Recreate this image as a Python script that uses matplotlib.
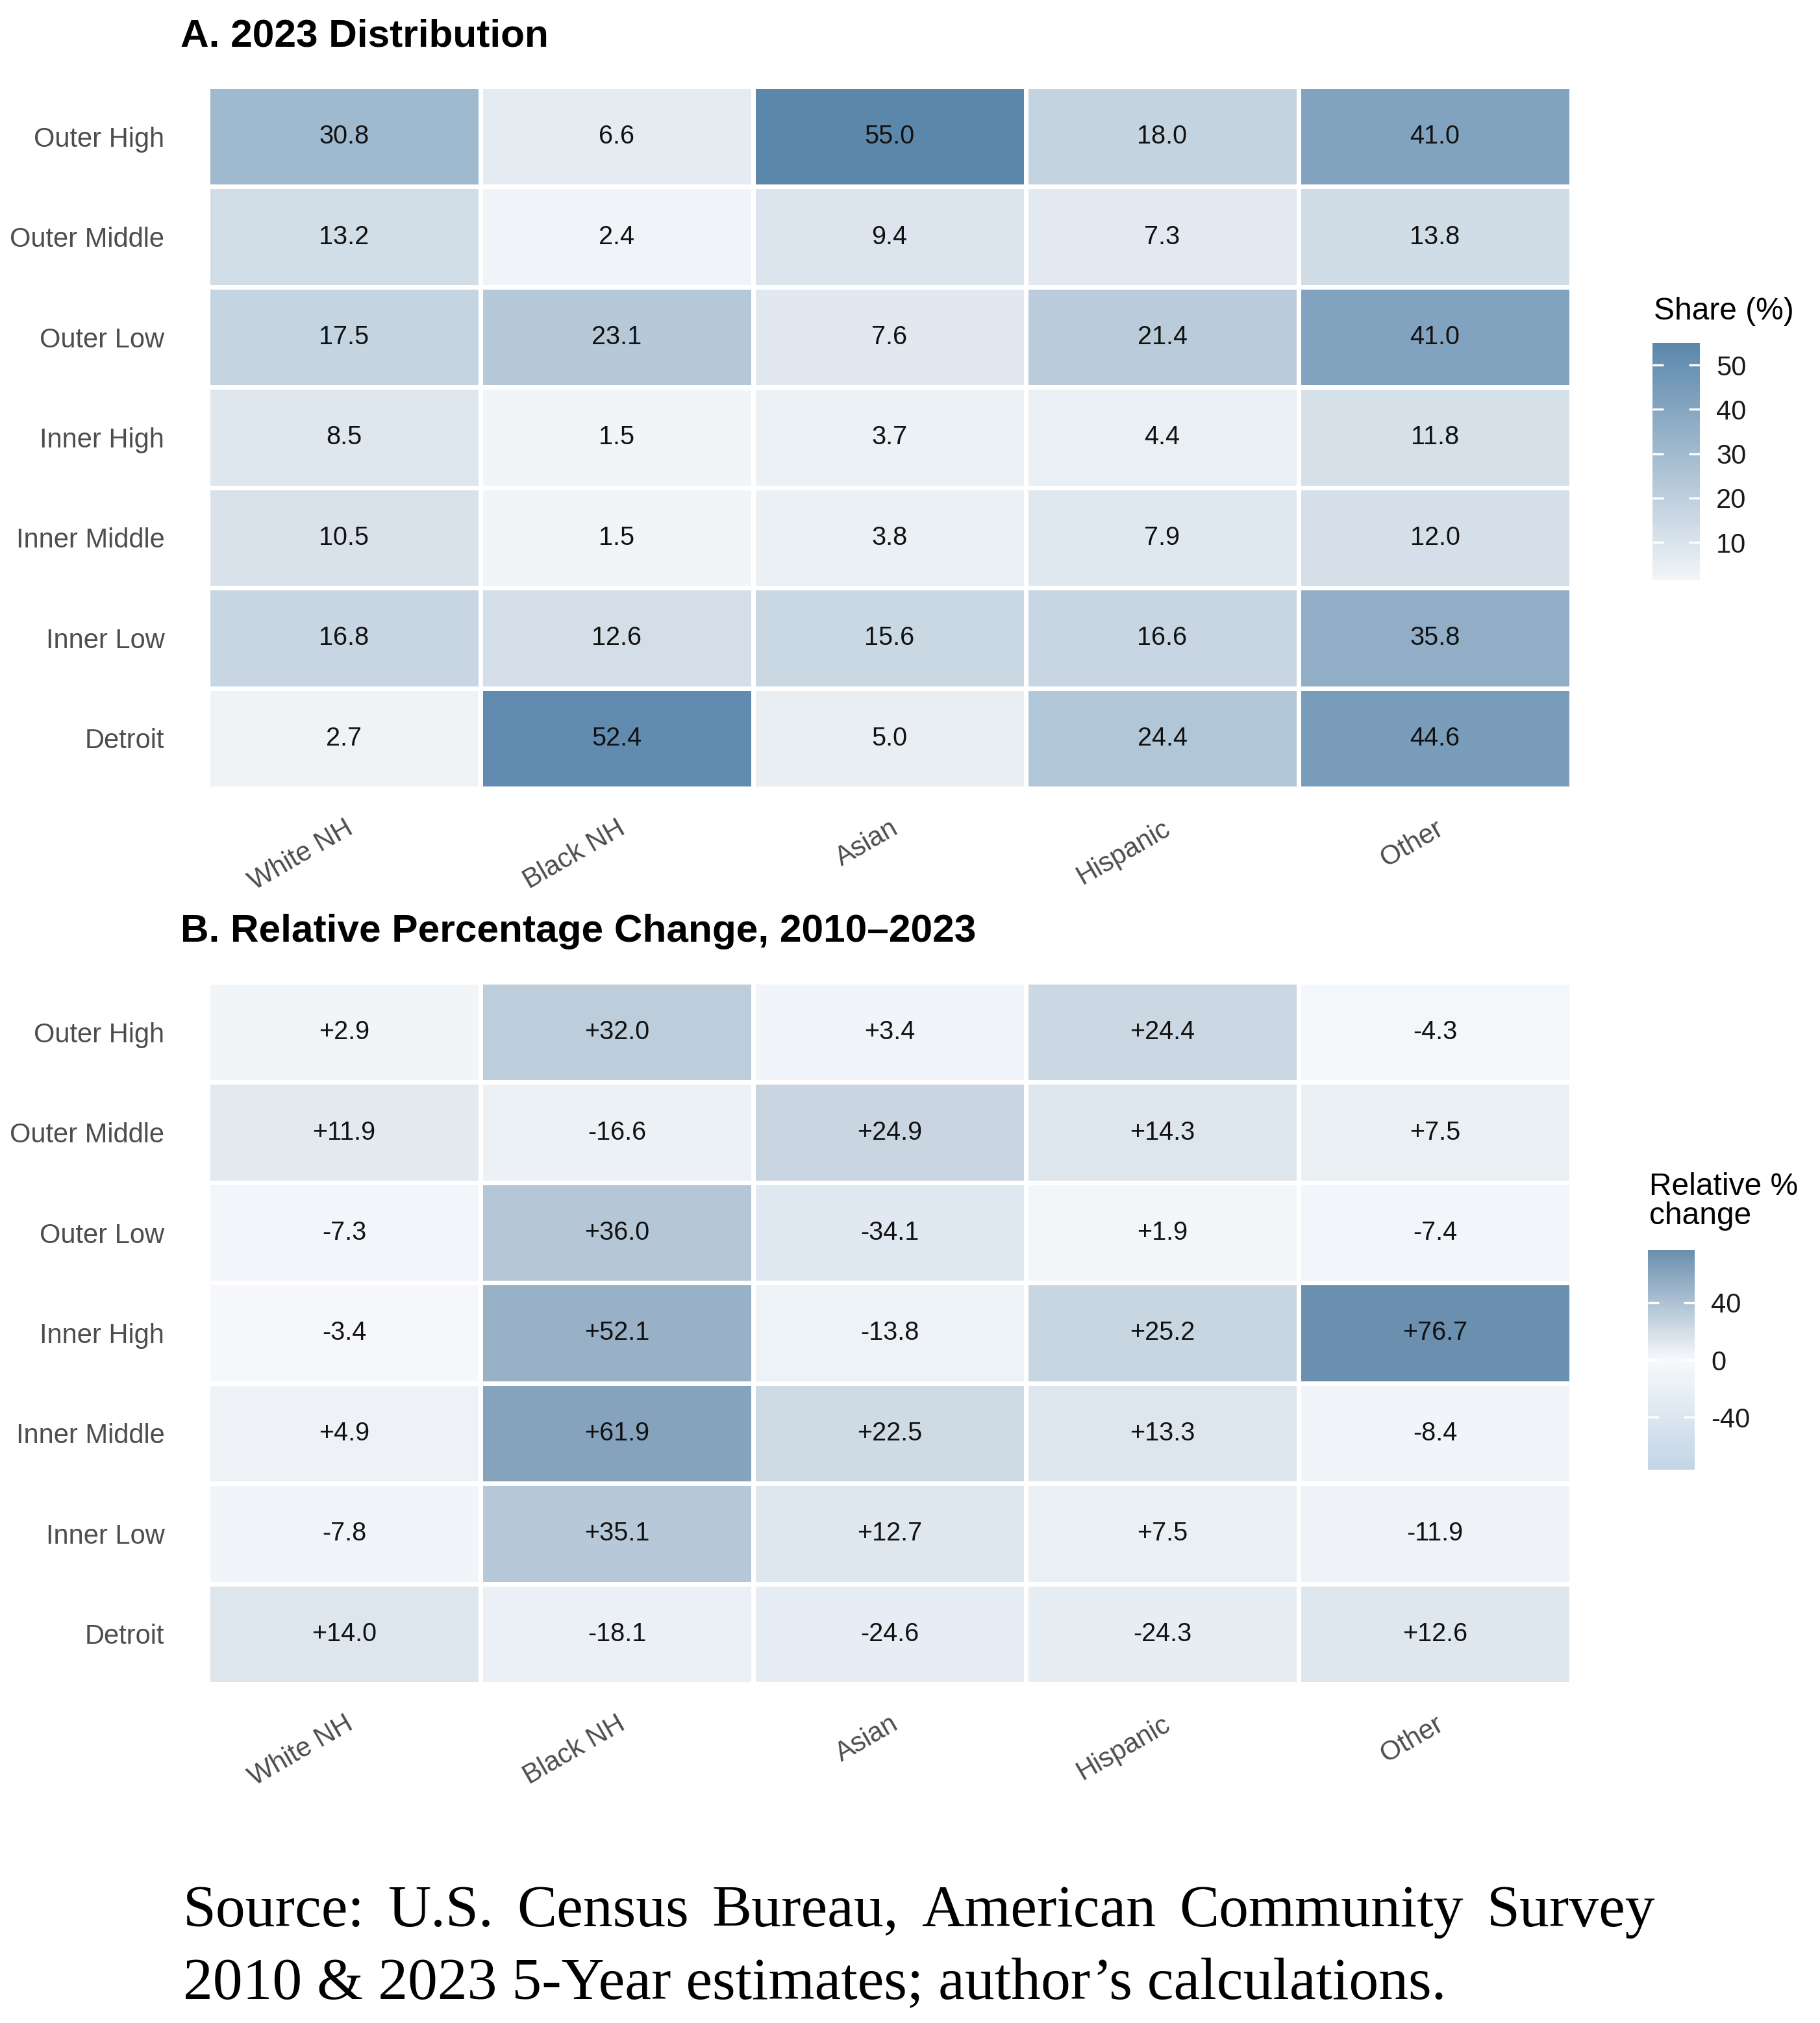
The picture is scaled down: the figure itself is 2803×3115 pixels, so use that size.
import numpy as np
import matplotlib
matplotlib.use("Agg")
import matplotlib.pyplot as plt
from matplotlib.colors import LinearSegmentedColormap, Normalize
import matplotlib.transforms as mtransforms

# ---- data ----
rows = ["Outer High", "Outer Middle", "Outer Low", "Inner High",
        "Inner Middle", "Inner Low", "Detroit"]
cols = ["White NH", "Black NH", "Asian", "Hispanic", "Other"]

share_2023 = [
    [30.8, 6.6, 55.0, 18.0, 41.0],
    [13.2, 2.4, 9.4, 7.3, 13.8],
    [17.5, 23.1, 7.6, 21.4, 41.0],
    [8.5, 1.5, 3.7, 4.4, 11.8],
    [10.5, 1.5, 3.8, 7.9, 12.0],
    [16.8, 12.6, 15.6, 16.6, 35.8],
    [2.7, 52.4, 5.0, 24.4, 44.6],
]
rel_change = [
    [2.9, 32.0, 3.4, 24.4, -4.3],
    [11.9, -16.6, 24.9, 14.3, 7.5],
    [-7.3, 36.0, -34.1, 1.9, -7.4],
    [-3.4, 52.1, -13.8, 25.2, 76.7],
    [4.9, 61.9, 22.5, 13.3, -8.4],
    [-7.8, 35.1, 12.7, 7.5, -11.9],
    [14.0, -18.1, -24.6, -24.3, 12.6],
]
share_ticks = [10, 20, 30, 40, 50]
change_ticks = [-40, 0, 40]

plt.rcParams["font.family"] = ["Liberation Sans", "DejaVu Sans"]
plt.rcParams["axes.unicode_minus"] = False

W, H, DPI = 2803, 3115, 300
fig = plt.figure(figsize=(W / DPI, H / DPI), dpi=DPI)


def fx(px):
    return px / W


def fy(px):
    return 1 - px / H


cmap_a = LinearSegmentedColormap.from_list("share", ["#f2f5f8", "#5b87ab"])
cmap_b = LinearSegmentedColormap.from_list("chg", ["#c2d5e6", "#f7f9fb", "#6b8fae"])


def heatmap(top_px, data, cmap, norm, fmt, cb_box, cb_ticks):
    vals = np.array(data)
    ax = fig.add_axes([fx(320), fy(top_px + 1081), fx(2100), 1081 / H])
    ax.pcolormesh(vals, cmap=cmap, norm=norm, edgecolors="white", linewidth=1.3)
    ax.set_xlim(0, len(cols))
    ax.set_ylim(len(rows), 0)
    for i in range(len(rows)):
        for j in range(len(cols)):
            ax.text(j + 0.5, i + 0.5, fmt.format(vals[i, j]), ha="center",
                    va="center", fontsize=9.5, color="#111111")
    for s in ax.spines.values():
        s.set_visible(False)
    ax.set_yticks(np.arange(len(rows)) + 0.5)
    ax.set_yticklabels(rows, fontsize=10, color="#4d4d4d")
    ax.set_xticks(np.arange(len(cols)) + 0.5)
    ax.set_xticklabels(cols, fontsize=10, color="#4d4d4d", rotation=30,
                       ha="right", va="top", rotation_mode="anchor")
    off = mtransforms.ScaledTranslation(0.04, 0, fig.dpi_scale_trans)
    for lab in ax.get_xticklabels():
        lab.set_transform(lab.get_transform() + off)
    ax.tick_params(axis="y", length=0, pad=16)
    ax.tick_params(axis="x", length=0, pad=10)

    cax = fig.add_axes(cb_box)
    sm = matplotlib.cm.ScalarMappable(norm=norm, cmap=cmap)
    cb = fig.colorbar(sm, cax=cax, ticks=cb_ticks)
    cb.outline.set_visible(False)
    cax.tick_params(axis="y", direction="in", length=4, width=0.8,
                    color="white", left=True, right=True,
                    labelsize=10, labelcolor="#1a1a1a", pad=6)
    return ax


heatmap(133, share_2023, cmap_a, Normalize(1.5, 55.0), "{:.1f}",
        [fx(2545), fy(893), fx(73), 365 / H], share_ticks)
heatmap(1512, rel_change, cmap_b, Normalize(-76.7, 76.7), "{:+.1f}",
        [fx(2538), fy(2263), fx(72), 338 / H], change_ticks)

fig.text(fx(278), fy(56), "A. 2023 Distribution", fontsize=14.5,
         fontweight="bold", va="center", ha="left")
fig.text(fx(278), fy(1434), "B. Relative Percentage Change, 2010\u20132023",
         fontsize=14.5, fontweight="bold", va="center", ha="left")
fig.text(fx(2547), fy(480), "Share (%)", fontsize=11.5, va="center", ha="left")
fig.text(fx(2540), fy(1805), "Relative %\nchange", fontsize=11.5, va="top",
         ha="left", linespacing=1.0)

# ---- source note, first line justified ----
serif = ["Liberation Serif", "DejaVu Serif"]
line1 = "Source: U.S. Census Bureau, American Community Survey".split()
x0, x1 = 282, 2549
fig.canvas.draw()
rend = fig.canvas.get_renderer()
words = [fig.text(0, fy(2966), w, fontsize=22, family=serif, va="baseline")
         for w in line1]
widths = [t.get_window_extent(rend).width for t in words]
gap = ((x1 - x0) - sum(widths)) / (len(words) - 1)
x = x0
for t, w in zip(words, widths):
    t.set_x(fx(x))
    x += w + gap
fig.text(fx(x0), fy(3078), "2010 & 2023 5-Year estimates; author\u2019s calculations.",
         fontsize=22, family=serif, va="baseline", ha="left")

fig.savefig("out.png", dpi=DPI)
